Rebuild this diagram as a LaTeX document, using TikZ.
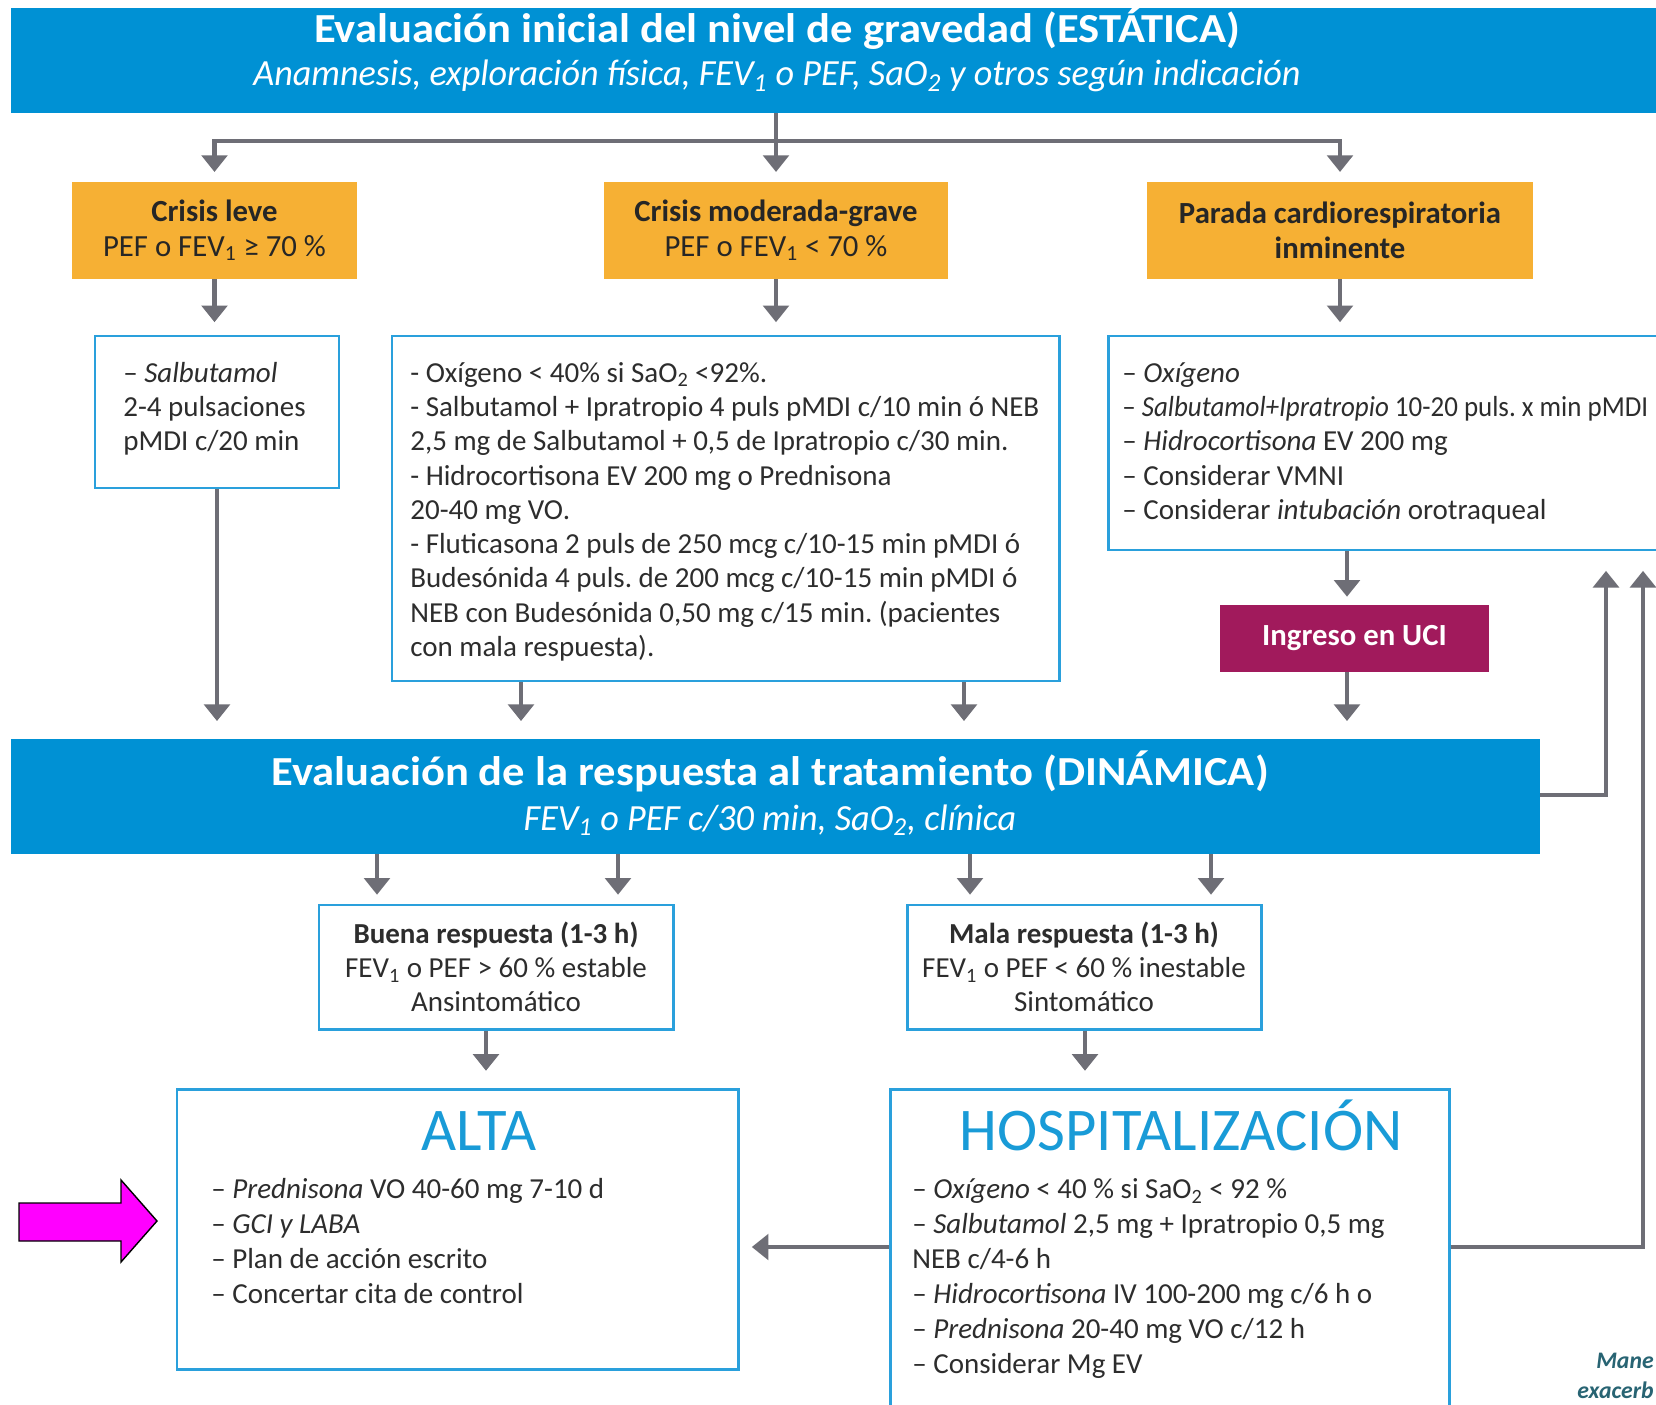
\documentclass[tikz,border=0pt]{standalone}
\usepackage{fontspec}
\setmainfont{Carlito}
\newfontfamily\condfont{Carlito}[FakeStretch=1.08]
\newfontfamily\condsubfont{Carlito}[FakeStretch=0.98]
\usetikzlibrary{arrows.meta,calc}

\definecolor{bannerblue}{RGB}{0,145,212}
\definecolor{boxblue}{RGB}{42,160,220}
\definecolor{crisisorange}{RGB}{246,176,52}
\definecolor{ucimaroon}{RGB}{161,26,92}
\definecolor{flowgray}{RGB}{110,110,118}
\definecolor{bodygray}{RGB}{45,45,45}
\definecolor{headblue}{RGB}{25,155,215}
\definecolor{noteteal}{RGB}{40,100,115}
\definecolor{pointermagenta}{RGB}{255,0,255}

\newcommand{\lowix}[1]{\textsubscript{#1}}

\tikzset{
  banner/.style={fill=bannerblue, inner sep=0},
  bannertitle/.style={inner sep=0, text=white, font=\condfont\bfseries\fontsize{23.5}{28}\selectfont},
  bannersub/.style={inner sep=0, text=white, font=\condsubfont\itshape\fontsize{21}{25}\selectfont},
  crisisbox/.style={fill=crisisorange, inner sep=0, align=center, text=black!85,
    font=\fontsize{17.5}{19.8}\selectfont},
  outlinebox/.style={draw=boxblue, line width=1.7pt, fill=white, inner sep=0},
  respbox/.style={outlinebox, align=center, text=bodygray, font=\fontsize{16.5}{19.5}\selectfont},
  ucibox/.style={fill=ucimaroon, inner sep=0, text=white, font=\bfseries\fontsize{17.5}{19.5}\selectfont},
  bodytext/.style={inner sep=0, anchor=north west, align=left, text=bodygray,
    font=\fontsize{16.5}{19.5}\selectfont},
  outcometext/.style={bodytext, font=\fontsize{16.5}{19.9}\selectfont},
  bigtitle/.style={inner sep=0, anchor=base, text=headblue, font=\fontsize{34.5}{38}\selectfont},
  flow/.style={draw=flowgray, line width=2.6pt, -{Triangle[width=14.5pt,length=9.5pt]}},
  note/.style={inner sep=0, anchor=base east, text=noteteal, font=\bfseries\itshape\fontsize{13.5}{15}\selectfont}
}

\begin{document}
\frenchspacing
\begin{tikzpicture}[x=0.02cm, y=-0.02cm]
\useasboundingbox[fill=white] (0,0) rectangle (1656,1405);

% ---------- static assessment ----------
\node[banner, minimum width=1659*0.02cm, minimum height=105*0.02cm] (estatica) at (840.5,60.5) {};
\node[bannertitle, anchor=base] (estaticat) at (777,43) {Evaluación inicial del nivel de gravedad (ESTÁTICA)};
\node[bannersub, anchor=base] (estaticas) at (777,86) {Anamnesis, exploración física, FEV\lowix{1} o PEF, SaO\lowix{2} y otros según indicación};

% ---------- severity ----------
\node[crisisbox, minimum width=285*0.02cm, minimum height=97*0.02cm] (leve) at (214.5,230.5)
  {\textbf{Crisis leve}\\PEF o FEV\lowix{1} ≥ 70 \%};
\node[crisisbox, minimum width=344*0.02cm, minimum height=97*0.02cm] (moderada) at (776,230.5)
  {\textbf{Crisis moderada-grave}\\PEF o FEV\lowix{1} < 70 \%};
\node[crisisbox, minimum width=386*0.02cm, minimum height=97*0.02cm] (parada) at (1340,230.5)
  {\textbf{Parada cardiorespiratoria}\\\textbf{inminente}};

\coordinate (split) at (777,141);
\draw[flow, shorten >=5.5pt] (estatica.south -| moderada.north) -- (moderada.north);
\draw[flow, shorten >=5.5pt] (split) -| (leve.north);
\draw[flow, shorten >=5.5pt] (split) -| (parada.north);

% ---------- treatment boxes ----------
\node[outlinebox, minimum width=244*0.02cm, minimum height=152*0.02cm] (tratleve) at (217,412) {};
\node[outlinebox, minimum width=667*0.02cm, minimum height=345*0.02cm] (tratmod) at (725.5,508.5) {};
\node[outlinebox, minimum width=572*0.02cm, minimum height=214*0.02cm] (tratparada) at (1394,443) {};

\node[bodytext] (tratlevet) at (123,358)
  {\strut– \textit{Salbutamol}\\2-4 pulsaciones\\pMDI c/20 min};
\node[bodytext] (tratmodt) at (410,358)
  {\strut- Oxígeno < 40\% si SaO\lowix{2} <92\%.\\
   - Salbutamol + Ipratropio 4 puls pMDI c/10 min ó NEB\\
   2,5 mg de Salbutamol + 0,5 de Ipratropio c/30 min.\\
   - Hidrocortisona EV 200 mg o Prednisona\\
   20-40 mg VO.\\
   - Fluticasona 2 puls de 250 mcg c/10-15 min pMDI ó\\
   Budesónida 4 puls. de 200 mcg c/10-15 min pMDI ó\\
   NEB con Budesónida 0,50 mg c/15 min. (pacientes\\
   con mala respuesta).};
\node[bodytext] (tratparadat) at (1122,358)
  {\strut– \textit{Oxígeno}\\
   {\addfontfeatures{FakeStretch=0.93}– \textit{Salbutamol+Ipratropio} 10-20 puls. x min pMDI}\\
   – \textit{Hidrocortisona} EV 200 mg\\
   – Considerar VMNI\\
   – Considerar \textit{intubación} orotraqueal};

\draw[flow, shorten >=7pt] (leve.south) -- (leve.south |- tratleve.north);
\draw[flow, shorten >=7pt] (moderada.south) -- (moderada.south |- tratmod.north);
\draw[flow, shorten >=7pt] (parada.south) -- (parada.south |- tratparada.north);

\node[ucibox, minimum width=269*0.02cm, minimum height=67*0.02cm] (uci) at (1354.5,638.5) {Ingreso en UCI};
\coordinate (ucix) at (1347,0);
\draw[flow, shorten >=4.5pt] (tratparada.south -| ucix) -- (uci.north -| ucix);

% ---------- dynamic assessment ----------
\node[banner, minimum width=1529*0.02cm, minimum height=115*0.02cm] (dinamica) at (775.5,796.5) {};
\node[bannertitle, anchor=base] (dinamicat) at (770,785) {Evaluación de la respuesta al tratamiento (DINÁMICA)};
\node[bannersub, anchor=base] (dinamicas) at (770,830) {FEV\lowix{1} o PEF c/30 min, SaO\lowix{2}, clínica};

\coordinate (m1) at (521,0);
\coordinate (m2) at (964,0);
\draw[flow, shorten >=10pt] (tratleve.south) -- (tratleve.south |- dinamica.north);
\draw[flow, shorten >=10pt] (tratmod.south -| m1) -- (dinamica.north -| m1);
\draw[flow, shorten >=10pt] (tratmod.south -| m2) -- (dinamica.north -| m2);
\draw[flow, shorten >=10pt] (uci.south -| ucix) -- (dinamica.north -| ucix);

% feedback to the imminent-arrest branch
\coordinate (fb1) at (1606,795);
\coordinate (fb2) at (1643,1247);
\draw[flow, shorten >=11pt] (dinamica.east |- fb1) -- (fb1) -- (fb1 |- tratparada.south);

% ---------- response ----------
\node[respbox, minimum width=354*0.02cm, minimum height=124*0.02cm] (buena) at (496,967)
  {\textbf{Buena respuesta (1-3 h)}\\FEV\lowix{1} o PEF > 60 \% estable\\Ansintomático};
\node[respbox, minimum width=354*0.02cm, minimum height=124*0.02cm] (mala) at (1084,967)
  {\textbf{Mala respuesta (1-3 h)}\\FEV\lowix{1} o PEF < 60 \% inestable\\Sintomático};

\coordinate (d1) at (377,0);
\coordinate (d2) at (618,0);
\coordinate (d3) at (970,0);
\coordinate (d4) at (1211,0);
\draw[flow, shorten >=5pt] (dinamica.south -| d1) -- (buena.north -| d1);
\draw[flow, shorten >=5pt] (dinamica.south -| d2) -- (buena.north -| d2);
\draw[flow, shorten >=5pt] (dinamica.south -| d3) -- (mala.north -| d3);
\draw[flow, shorten >=5pt] (dinamica.south -| d4) -- (mala.north -| d4);

% ---------- outcome ----------
\node[outlinebox, minimum width=561*0.02cm, minimum height=280*0.02cm] (alta) at (457.5,1229) {};
\node[outlinebox, minimum width=559*0.02cm, minimum height=331*0.02cm] (hosp) at (1169.5,1254.5) {};

\node[bigtitle] (altat) at (479,1150) {ALTA};
\node[bigtitle] (hospt) at (1181,1150) {HOSPITALIZACIÓN};

\node[outcometext] (altai) at (211,1174)
  {\strut– \textit{Prednisona} VO 40-60 mg 7-10 d\\
   – \textit{GCI y LABA}\\
   – Plan de acción escrito\\
   – Concertar cita de control};
\node[outcometext] (hospi) at (912,1174)
  {\strut– \textit{Oxígeno} < 40 \% si SaO\lowix{2} < 92 \%\\
   – \textit{Salbutamol} 2,5 mg + Ipratropio 0,5 mg\\
   NEB c/4-6 h\\
   – \textit{Hidrocortisona} IV 100-200 mg c/6 h o\\
   – \textit{Prednisona} 20-40 mg VO c/12 h\\
   – Considerar Mg EV};

\coordinate (buenax) at (486,0);
\coordinate (malax) at (1085,0);
\draw[flow, shorten >=9.5pt] (buena.south -| buenax) -- (alta.north -| buenax);
\draw[flow, shorten >=9.5pt] (mala.south -| malax) -- (hosp.north -| malax);

\draw[flow, shorten >=7pt] (hosp.west |- fb2) -- (alta.east |- fb2);
\draw[flow, shorten >=11pt] (hosp.east |- fb2) -- (fb2) -- (fb2 |- tratparada.south);

% pointer
\draw[fill=pointermagenta, draw=black, line width=0.8pt, line join=miter]
  (19,1203) -- (121,1203) -- (121,1180) -- (157,1221) -- (121,1262) -- (121,1241) -- (19,1241) -- cycle;

% caption fragment at the page edge
\node[note] (cap1) at (1654,1368) {Mane};
\node[note] (cap2) at (1654,1398) {exacerb};
\end{tikzpicture}
\end{document}
